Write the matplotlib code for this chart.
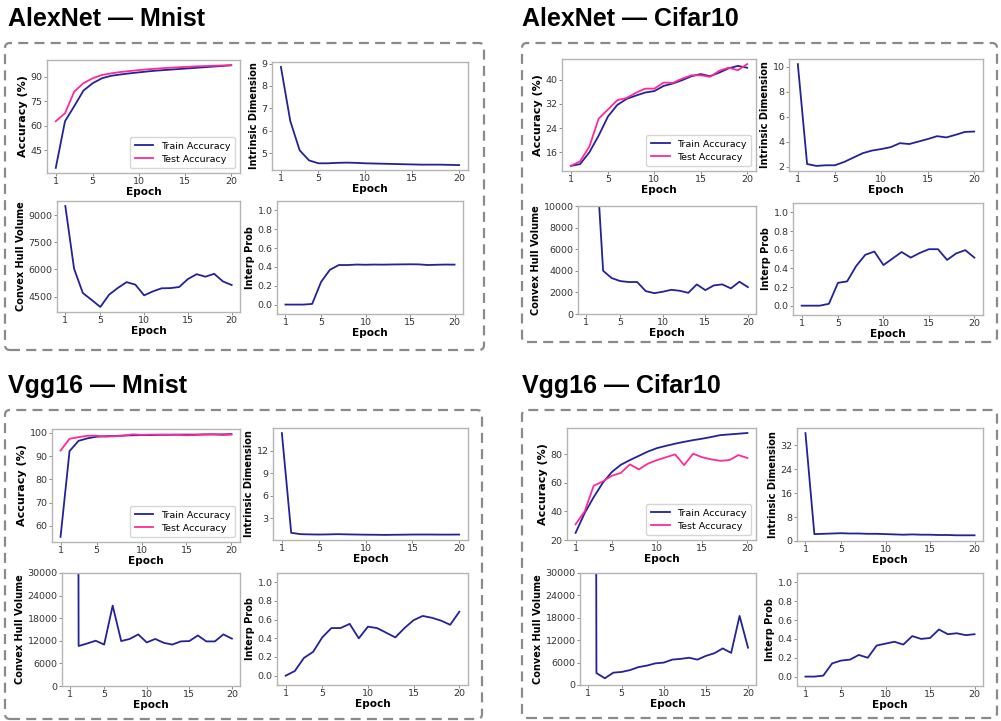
import numpy as np
import matplotlib
matplotlib.use("Agg")
from matplotlib import pyplot as plt
from matplotlib.patches import FancyBboxPatch

W, H = 1001, 721

epochs = list(range(1, 21))
xticks = [1, 5, 10, 15, 20]

# AlexNet - Mnist
an_mn_train = [34.4, 62.8, 72.0, 81.5, 86.0, 89.0, 90.5, 91.3, 92.0, 92.6,
               93.2, 93.7, 94.1, 94.5, 94.9, 95.3, 95.7, 96.1, 96.5, 96.9]
an_mn_test = [62.8, 67.7, 80.9, 86.0, 89.0, 91.0, 92.0, 92.8, 93.4, 94.0,
              94.5, 94.9, 95.3, 95.6, 95.9, 96.2, 96.4, 96.6, 96.8, 97.0]
an_mn_id = [8.85, 6.43, 5.12, 4.67, 4.54, 4.54, 4.56, 4.57, 4.56, 4.54,
            4.53, 4.52, 4.51, 4.50, 4.49, 4.48, 4.48, 4.48, 4.47, 4.46]
an_mn_ch = [9500, 6040, 4700, 4320, 3930, 4610, 4980, 5300, 5160, 4570,
            4790, 4960, 4970, 5030, 5470, 5740, 5600, 5760, 5340, 5140]
an_mn_ip = [0.0, 0.0, 0.0, 0.007, 0.24, 0.37, 0.42, 0.42, 0.425, 0.423,
            0.425, 0.424, 0.426, 0.427, 0.428, 0.427, 0.42, 0.423, 0.425, 0.424]

# AlexNet - Cifar10
an_cf_train = [11.5, 12.1, 16.0, 21.5, 27.8, 31.6, 33.6, 34.7, 35.7, 36.2,
               37.9, 38.7, 39.8, 41.1, 41.8, 41.1, 42.3, 43.7, 44.5, 43.9]
an_cf_test = [11.5, 13.0, 17.9, 27.1, 30.1, 33.2, 33.9, 35.6, 37.0, 37.0,
              39.0, 38.9, 40.3, 41.4, 41.4, 40.9, 42.9, 43.9, 43.1, 45.1]
an_cf_id = [10.2, 2.2, 2.05, 2.1, 2.1, 2.37, 2.72, 3.07, 3.28, 3.4,
            3.55, 3.87, 3.8, 4.0, 4.2, 4.43, 4.33, 4.54, 4.77, 4.8]
an_cf_ch = [40000, 17000, 4000, 3330, 3050, 2960, 2960, 2120, 1930, 2060,
            2240, 2150, 1960, 2740, 2210, 2650, 2740, 2370, 2990, 2490]
an_cf_ip = [0.0, 0.0, 0.0, 0.02, 0.245, 0.26, 0.425, 0.545, 0.58, 0.435,
            0.505, 0.575, 0.515, 0.565, 0.605, 0.605, 0.49, 0.56, 0.595, 0.515]

# Vgg16 - Mnist
vg_mn_train = [55.2, 92.2, 96.6, 97.7, 98.4, 98.6, 98.7, 98.9, 99.0, 99.1,
               99.1, 99.2, 99.2, 99.3, 99.3, 99.3, 99.4, 99.4, 99.4, 99.5]
vg_mn_test = [92.4, 97.5, 98.2, 98.8, 98.8, 98.4, 98.6, 98.8, 99.4, 99.2,
              99.3, 99.3, 99.3, 99.2, 99.0, 99.1, 99.3, 99.4, 99.1, 99.3]
vg_mn_id = [14.33, 1.03, 0.85, 0.82, 0.8, 0.82, 0.85, 0.82, 0.8, 0.78,
            0.77, 0.75, 0.77, 0.78, 0.8, 0.8, 0.8, 0.79, 0.79, 0.8]
vg_mn_ch = [1200000, 10620, 11280, 12020, 11000, 21340, 11930, 12490, 13700, 11560,
            12490, 11460, 11000, 11840, 11930, 13420, 11840, 11840, 13700, 12580]
vg_mn_ip = [0.0, 0.05, 0.19, 0.255, 0.41, 0.51, 0.51, 0.555, 0.40, 0.525,
            0.51, 0.46, 0.41, 0.51, 0.595, 0.64, 0.62, 0.59, 0.545, 0.685]

# Vgg16 - Cifar10
vg_cf_train = [25.0, 38.8, 50.0, 60.0, 67.6, 72.7, 76.0, 79.0, 82.0, 84.4,
               86.0, 87.5, 88.8, 90.0, 91.0, 92.2, 93.5, 94.0, 94.5, 95.0]
vg_cf_test = [31.0, 40.0, 58.0, 61.0, 65.0, 67.0, 73.0, 69.5, 73.5, 76.0,
              78.0, 80.0, 72.5, 80.5, 78.0, 76.5, 75.5, 76.0, 79.5, 77.5]
vg_cf_id = [36.0, 2.3, 2.4, 2.5, 2.6, 2.5, 2.5, 2.4, 2.4, 2.3,
            2.2, 2.1, 2.2, 2.1, 2.1, 2.0, 2.0, 1.9, 1.9, 1.9]
vg_cf_ch = [1200000, 3200, 1800, 3300, 3500, 4000, 4800, 5200, 5800, 6000,
            6800, 7000, 7300, 6800, 7800, 8500, 9800, 8600, 18500, 10000]
vg_cf_ip = [0.0, 0.0, 0.01, 0.14, 0.17, 0.18, 0.23, 0.2, 0.33, 0.35,
            0.37, 0.34, 0.43, 0.40, 0.41, 0.50, 0.45, 0.46, 0.44, 0.45]

titles = ["AlexNet — Mnist", "AlexNet — Cifar10", "Vgg16 — Mnist", "Vgg16 — Cifar10"]

TRAIN_C = "#22229a"
TEST_C = "#ff2a96"
SPINE_C = "#b5b5b5"


def px_axes(fig, l, t, r, b):
    return fig.add_axes([l / W, 1 - b / H, (r - l) / W, (b - t) / H])


def style(ax, ylabel, yticks=None, ysize=7.0):
    for s in ax.spines.values():
        s.set_color(SPINE_C)
        s.set_linewidth(1.0)
    ax.tick_params(colors="#333333", labelsize=6.8, length=2.0, width=0.6, pad=1.2)
    ax.tick_params(axis="both", color="#777777")
    ax.set_xticks(xticks)
    if yticks is not None:
        ax.set_yticks(yticks)
    ax.set_xlabel("Epoch", fontsize=7.6, fontweight="bold", labelpad=0.3)
    ax.set_ylabel(ylabel, fontsize=ysize, fontweight="bold", labelpad=2)


def draw_group(fig, boxes, train, test, idim, ch, ip, yt_acc, yt_id, yt_ch, ch_lim):
    a = px_axes(fig, *boxes[0])
    a.plot(epochs, train, color=TRAIN_C, lw=1.3, label="Train Accuracy")
    a.plot(epochs, test, color=TEST_C, lw=1.3, label="Test Accuracy")
    style(a, "Accuracy (%)", yt_acc, ysize=8.0)
    leg = a.legend(loc="lower right", fontsize=6.8, frameon=True, fancybox=True,
                   handlelength=2.0, borderpad=0.5, labelspacing=0.4)
    leg.get_frame().set_edgecolor("#cccccc")

    b = px_axes(fig, *boxes[1])
    b.plot(epochs, idim, color=TRAIN_C, lw=1.3)
    style(b, "Intrinsic Dimension", yt_id)

    c = px_axes(fig, *boxes[2])
    c.plot(epochs, ch, color=TRAIN_C, lw=1.3)
    style(c, "Convex Hull Volume", yt_ch)
    if ch_lim is not None:
        c.set_ylim(*ch_lim)

    d = px_axes(fig, *boxes[3])
    d.plot(epochs, ip, color=TRAIN_C, lw=1.3)
    style(d, "Interp Prob", [0.0, 0.2, 0.4, 0.6, 0.8, 1.0])
    d.set_ylim(-0.1, 1.1)


fig = plt.figure(figsize=(W / 100, H / 100), dpi=100)

# dashed frames (pixel boxes: left, top, right, bottom)
frames = [(5, 43, 484, 350), (522, 43, 997, 342), (5, 410, 482, 719), (522, 410, 997, 718)]
for (l, t, r, b) in frames:
    p = FancyBboxPatch((l / 100, (H - b) / 100), (r - l) / 100, (b - t) / 100,
                       boxstyle="round,pad=0,rounding_size=0.05",
                       transform=fig.dpi_scale_trans, fill=False,
                       edgecolor="#8a8a8a", lw=1.6, linestyle=(0, (4.5, 2.8)))
    fig.add_artist(p)

title_pos = [(8, 19), (522, 19), (8, 386), (522, 386)]
for (x, y), t in zip(title_pos, titles):
    fig.text(x / W, 1 - y / H, t, fontsize=18, fontweight="bold",
             family=["Liberation Sans", "DejaVu Sans"], va="center", ha="left")

draw_group(fig,
           [(47, 60, 240, 173), (272, 62, 468, 170), (57, 201, 240, 312), (277, 201, 463, 314)],
           an_mn_train, an_mn_test, an_mn_id, an_mn_ch, an_mn_ip,
           [45, 60, 75, 90], [5, 6, 7, 8, 9], [4500, 6000, 7500, 9000], None)

draw_group(fig,
           [(562, 59, 756, 171), (789, 59, 983, 171), (578, 206, 756, 314), (793, 203, 983, 315)],
           an_cf_train, an_cf_test, an_cf_id, an_cf_ch, an_cf_ip,
           [16, 24, 32, 40], [2, 4, 6, 8, 10], [0, 2000, 4000, 6000, 8000, 10000], (0, 10000))

draw_group(fig,
           [(52, 429, 240, 542), (273, 428, 468, 540), (62, 573, 240, 686), (277, 573, 468, 685)],
           vg_mn_train, vg_mn_test, vg_mn_id, vg_mn_ch, vg_mn_ip,
           [60, 70, 80, 90, 100], [3, 6, 9, 12], [0, 6000, 12000, 18000, 24000, 30000], (0, 30000))

draw_group(fig,
           [(567, 428, 756, 540), (797, 428, 983, 541), (580, 573, 756, 685), (797, 573, 983, 686)],
           vg_cf_train, vg_cf_test, vg_cf_id, vg_cf_ch, vg_cf_ip,
           [20, 40, 60, 80], [0, 8, 16, 24, 32], [0, 6000, 12000, 18000, 24000, 30000], (0, 30000))

fig.savefig("out.png", dpi=100)
